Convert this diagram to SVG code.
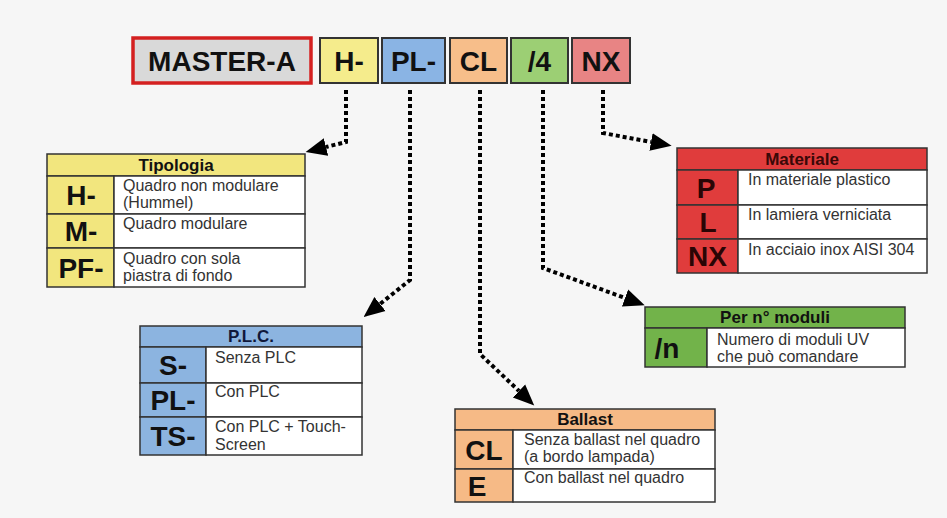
<svg xmlns="http://www.w3.org/2000/svg" width="947" height="518" viewBox="0 0 947 518">
<style>
.bg{fill:#f6f6f6}
.cell{stroke:#333;stroke-width:1.5}
.desc{fill:#fff}
.hd{font-family:"Liberation Sans",Arial,sans-serif;font-weight:bold;font-size:17px;text-anchor:middle;fill:#111}
.key{font-family:"Liberation Sans",Arial,sans-serif;font-weight:bold;font-size:28px;text-anchor:middle;fill:#111}
.tx{font-family:"Liberation Sans",Arial,sans-serif;font-size:16px;fill:#333}
.top{font-family:"Liberation Sans",Arial,sans-serif;font-weight:bold;font-size:28px;text-anchor:middle;fill:#111}
.tb{stroke:#333;stroke-width:2}
.conn{fill:none;stroke:#000;stroke-width:4;stroke-dasharray:4 3}
.yel{fill:#f2e67e}.blu{fill:#8cb4e0}.ora{fill:#f6ba86}.grn{fill:#72b34a}.red{fill:#e03c3c}
</style>
<defs>
<marker id="ah" markerUnits="userSpaceOnUse" markerWidth="24" markerHeight="20" refX="0" refY="9" orient="auto" viewBox="0 0 24 18">
<path d="M0,0 L21,9 L0,18 Z" fill="#000"/>
</marker>
</defs>
<rect class="bg" x="0" y="0" width="947" height="518"/>

<g id="code-master">
<rect x="133" y="38" width="178" height="45" fill="#d9d9d9" stroke="#d42020" stroke-width="3.5"/>
<text class="top" x="222" y="71">MASTER-A</text>
</g>
<g id="code-h">
<rect class="tb" x="320" y="38" width="58" height="45" fill="#f5ec8c"/>
<text class="top" x="349" y="71">H-</text>
</g>
<g id="code-pl">
<rect class="tb" x="382" y="38" width="63" height="45" fill="#8ab4e4"/>
<text class="top" x="413.5" y="71">PL-</text>
</g>
<g id="code-cl">
<rect class="tb" x="450" y="38" width="57" height="45" fill="#f7be8a"/>
<text class="top" x="478.5" y="71">CL</text>
</g>
<g id="code-4">
<rect class="tb" x="511" y="38" width="57" height="45" fill="#9ccf74"/>
<text class="top" x="539.5" y="71">/4</text>
</g>
<g id="code-nx">
<rect class="tb" x="572" y="38" width="58" height="45" fill="#e88484"/>
<text class="top" x="601" y="71">NX</text>
</g>

<g id="connectors">
<polyline class="conn" points="346,90 346,142 326,147" marker-end="url(#ah)"/>
<polyline class="conn" points="410,90 410,280 380,304" marker-end="url(#ah)"/>
<polyline class="conn" points="480,90 480,354 519,391" marker-end="url(#ah)"/>
<polyline class="conn" points="543,90 543,268 625,298" marker-end="url(#ah)"/>
<polyline class="conn" points="603,90 603,133 651,142" marker-end="url(#ah)"/>
</g>

<g id="tipologia">
<rect class="cell yel" x="47" y="154" width="258" height="22"/>
<text class="hd" x="176" y="171">Tipologia</text>
<rect class="cell yel" x="47" y="176" width="67" height="38"/>
<rect class="cell desc" x="114" y="176" width="191" height="38"/>
<rect class="cell yel" x="47" y="214" width="67" height="34"/>
<rect class="cell desc" x="114" y="214" width="191" height="34"/>
<rect class="cell yel" x="47" y="248" width="67" height="39"/>
<rect class="cell desc" x="114" y="248" width="191" height="39"/>
<text class="key" x="81" y="205">H-</text>
<text class="key" x="81" y="241">M-</text>
<text class="key" x="81" y="278">PF-</text>
<text class="tx" x="123" y="191">Quadro non modulare</text>
<text class="tx" x="123" y="208">(Hummel)</text>
<text class="tx" x="123" y="229">Quadro modulare</text>
<text class="tx" x="123" y="264">Quadro con sola</text>
<text class="tx" x="123" y="281">piastra di fondo</text>
</g>

<g id="materiale">
<rect class="cell red" x="677" y="148" width="250" height="22"/>
<text class="hd" x="802" y="165" style="fill:#3a0808">Materiale</text>
<rect class="cell red" x="677" y="170" width="61" height="35"/>
<rect class="cell desc" x="738" y="170" width="189" height="35"/>
<rect class="cell red" x="677" y="205" width="61" height="34"/>
<rect class="cell desc" x="738" y="205" width="189" height="34"/>
<rect class="cell red" x="677" y="239" width="61" height="34"/>
<rect class="cell desc" x="738" y="239" width="189" height="34"/>
<text class="key" x="706" y="198" style="fill:#2a0505">P</text>
<text class="key" x="708" y="232" style="fill:#2a0505">L</text>
<text class="key" x="707.5" y="266" style="fill:#2a0505">NX</text>
<text class="tx" x="748" y="185">In materiale plastico</text>
<text class="tx" x="748" y="220">In lamiera verniciata</text>
<text class="tx" x="748" y="255">In acciaio inox AISI 304</text>
</g>

<g id="plc">
<rect class="cell blu" x="140" y="326" width="222" height="21"/>
<text class="hd" x="251" y="342" style="fill:#10183a">P.L.C.</text>
<rect class="cell blu" x="140" y="347" width="66" height="36"/>
<rect class="cell desc" x="206" y="347" width="156" height="36"/>
<rect class="cell blu" x="140" y="383" width="66" height="34"/>
<rect class="cell desc" x="206" y="383" width="156" height="34"/>
<rect class="cell blu" x="140" y="417" width="66" height="38"/>
<rect class="cell desc" x="206" y="417" width="156" height="38"/>
<text class="key" x="173" y="375">S-</text>
<text class="key" x="173" y="410">PL-</text>
<text class="key" x="173" y="446">TS-</text>
<text class="tx" x="215" y="363">Senza PLC</text>
<text class="tx" x="215" y="397">Con PLC</text>
<text class="tx" x="215" y="432">Con PLC + Touch-</text>
<text class="tx" x="215" y="450">Screen</text>
</g>

<g id="moduli">
<rect class="cell grn" x="645" y="307" width="260" height="21"/>
<text class="hd" x="775" y="323">Per n° moduli</text>
<rect class="cell grn" x="645" y="328" width="62" height="39"/>
<rect class="cell desc" x="707" y="328" width="198" height="39"/>
<text class="key" x="667" y="358">/n</text>
<text class="tx" x="717" y="345">Numero di moduli UV</text>
<text class="tx" x="717" y="362">che può comandare</text>
</g>

<g id="ballast">
<rect class="cell ora" x="455" y="409" width="260" height="21"/>
<text class="hd" x="585" y="425">Ballast</text>
<rect class="cell ora" x="455" y="430" width="58" height="39"/>
<rect class="cell desc" x="513" y="430" width="202" height="39"/>
<rect class="cell ora" x="455" y="469" width="58" height="33"/>
<rect class="cell desc" x="513" y="469" width="202" height="33"/>
<text class="key" x="484" y="460">CL</text>
<text class="key" x="477" y="496">E</text>
<text class="tx" x="524" y="445">Senza ballast nel quadro</text>
<text class="tx" x="524" y="462">(a bordo lampada)</text>
<text class="tx" x="524" y="483">Con ballast nel quadro</text>
</g>
</svg>
